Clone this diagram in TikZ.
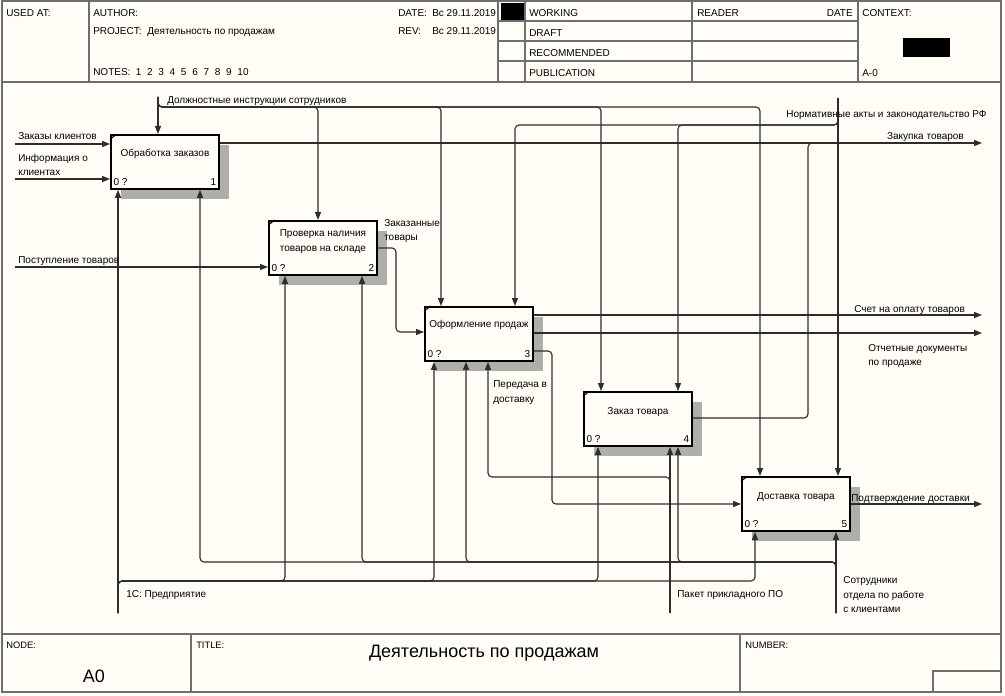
\documentclass[tikz,border=0pt]{standalone}
\usepackage{fontspec}
\setmainfont{Liberation Sans}
\usetikzlibrary{arrows.meta,shadows}
\definecolor{bg}{RGB}{255,253,245}
\definecolor{lnc}{RGB}{45,45,45}
\definecolor{frc}{RGB}{110,110,110}
\definecolor{shc}{RGB}{175,175,170}
\begin{document}
\begin{tikzpicture}[x=0.75pt,y=-0.75pt,
  arr/.style={draw=lnc,line width=0.85pt,-{Triangle[length=6pt,width=4.5pt]}},
  plain/.style={draw=lnc,line width=0.85pt},
  rc/.style={rounded corners=3pt},
  fbox/.style={draw=black,line width=1.4pt,fill=bg,minimum width=81pt,minimum height=40.5pt,
    inner sep=0pt,anchor=north west,
    drop shadow={fill=shc,opacity=1,shadow xshift=7.5pt,shadow yshift=-7.5pt}},
  lbl/.style={font=\fontsize{7.5}{9}\selectfont,inner sep=0pt,anchor=base west,text=black},
  lble/.style={lbl,anchor=base east},
  btxt/.style={font=\fontsize{7.5}{11.25}\selectfont,inner sep=0pt,align=center,text=black},
  frame/.style={draw=frc,line width=1pt},
  small/.style={font=\fontsize{7}{8}\selectfont,inner sep=0pt,anchor=base west,text=black},
  big/.style={font=\fontsize{13.5}{16}\selectfont,inner sep=0pt,anchor=base,text=black}
]
\useasboundingbox (0,0) rectangle (1005,695);
\fill[bg] (0,0) rectangle (1005,695);

% ---------- header ----------
\draw[frame] (2,1) rectangle (1001,692);
\draw[frame] (2,82) -- (1001,82);
\draw[frame] (89,1) -- (89,82);
\draw[frame] (498,1) -- (498,82);
\draw[frame] (525,1) -- (525,82);
\draw[frame] (692,1) -- (692,82);
\draw[frame] (858,1) -- (858,82);
\draw[frame] (498,21) -- (858,21);
\draw[frame] (498,41) -- (858,41);
\draw[frame] (498,61) -- (858,61);
\fill[black] (501,3) rectangle (524,20);
\fill[black] (903,38) rectangle (950,57);

\node[lbl] (hused) at (6,17) {USED AT:};
\node[lbl] (hauth) at (93,17) {AUTHOR:};
\node[lbl] (hproj) at (93,35) {PROJECT:};
\node[lbl] (hprojv) at (147,35) {Деятельность по продажам};
\node[lbl] (hnotes) at (93,76) {NOTES:\hspace{4pt}1\hspace{4.3pt}2\hspace{4.3pt}3\hspace{4.3pt}4\hspace{4.3pt}5\hspace{4.3pt}6\hspace{4.3pt}7\hspace{4.3pt}8\hspace{4.3pt}9\hspace{4.3pt}10};
\node[lbl] (hdate) at (398,17) {DATE:};
\node[lbl] (hdatev) at (432,17) {Вс 29.11.2019};
\node[lbl] (hrev) at (398,35) {REV:};
\node[lbl] (hrevv) at (432,35) {Вс 29.11.2019};
\node[lbl] (hwork) at (529,17) {WORKING};
\node[lbl] (hdraft) at (529,37) {DRAFT};
\node[lbl] (hrec) at (529,57) {RECOMMENDED};
\node[lbl] (hpub) at (529,77) {PUBLICATION};
\node[lbl] (hread) at (697,17) {READER};
\node[lble] (hrdate) at (853,17) {DATE};
\node[lbl] (hctx) at (862,17) {CONTEXT:};
\node[lbl] (hctxv) at (862,77) {A-0};

% ---------- footer ----------
\draw[draw=frc,line width=1.5pt] (2,634) -- (1001,634);
\draw[frame] (191,634) -- (191,692);
\draw[frame] (740,634) -- (740,692);
\draw[frame] (933,671) rectangle (1001,692);
\node[small] (fnode) at (6,648) {NODE:};
\node[small] (ftitle) at (196,648) {TITLE:};
\node[small] (fnum) at (745,648) {NUMBER:};
\node[big] (fnodev) at (94,682) {A0};
\node[big] (ftitlev) at (484,657) {Деятельность по продажам};

% ---------- boxes ----------
\node[fbox] (b1) at (110,134) {};
\node[fbox] (b2) at (268,220) {};
\node[fbox] (b3) at (424,306) {};
\node[fbox] (b4) at (583,391) {};
\node[fbox] (b5) at (741,476) {};

\foreach \b/\n in {b1/1,b2/2,b3/3,b4/4,b5/5}{
  \draw[line width=0.8pt] ([yshift=-4pt]\b.north west) -- ([xshift=5pt]\b.north west);
  \node[lbl] (\b z) at ([xshift=2.5pt,yshift=3pt]\b.south west) {0 ?};
  \node[lble] (\b n) at ([xshift=-2.5pt,yshift=3pt]\b.south east) {\n};
}
\node[btxt] (b1t) at ([yshift=6pt]b1.center) {Обработка заказов};
\node[btxt] (b2t) at ([yshift=5pt]b2.center) {Проверка наличия\\товаров на складе};
\node[btxt] (b3t) at ([yshift=6.5pt]b3.center) {Оформление продаж};
\node[btxt] (b4t) at ([yshift=5.5pt]b4.center) {Заказ товара};
\node[btxt] (b5t) at ([yshift=5pt]b5.center) {Доставка товара};

% ---------- free ends ----------
\coordinate (zkS) at (15,144);
\coordinate (ikS) at (15,179);
\coordinate (ptS) at (15,267);
\coordinate (diS) at (158,97);
\coordinate (naS) at (838,98);
\coordinate (ztE) at (982,143);
\coordinate (soE) at (982,315);
\coordinate (odE) at (982,333);
\coordinate (pdE) at (982,504);
\coordinate (m1S) at (118,613);
\coordinate (m2S) at (670,613);
\coordinate (m3S) at (836,613);

% ---------- inputs ----------
\draw[arr] (zkS) -- (zkS -| b1.west);
\draw[arr] (ikS) -- (ikS -| b1.west);
\draw[arr] (ptS) -- (ptS -| b2.west);

% ---------- controls ----------
\draw[arr] (diS) -- (diS |- b1.north);
\draw[arr,rc] (diS) -- (158,107) -- (318,107) -- (318,0 |- b2.north);
\draw[arr,rc] (diS) -- (158,107) -- (441,107) -- (441,0 |- b3.north);
\draw[arr,rc] (diS) -- (158,107) -- (601,107) -- (601,0 |- b4.north);
\draw[arr,rc] (diS) -- (158,107) -- (760,107) -- (760,0 |- b5.north);

\draw[arr] (naS) -- (naS |- b5.north);
\draw[arr,rc] (naS) -- (838,125) -- (678,125) -- (678,0 |- b4.north);
\draw[arr,rc] (naS) -- (838,125) -- (515,125) -- (515,0 |- b3.north);

% ---------- outputs ----------
\draw[arr] (ztE -| b1.east) -- (ztE);
\draw[plain,rc] (b4.east |- 0,418) -- (808,418) -- (808,143) -- (822,143);
\draw[arr,rc] (b2.east |- 0,248) -- (396,248) -- (396,332) -- (b3.west |- 0,332);
\draw[arr] (soE -| b3.east) -- (soE);
\draw[arr] (odE -| b3.east) -- (odE);
\draw[arr,rc] (b3.east |- 0,351) -- (552,351) -- (552,504) -- (b5.west |- 0,504);
\draw[arr] (pdE -| b5.east) -- (pdE);

% ---------- mechanisms ----------
\draw[arr] (m1S) -- (m1S |- b1.south);
\draw[arr,rc] (m1S) -- (118,581) -- (285,581) -- (285,0 |- b2.south);
\draw[arr,rc] (m1S) -- (118,581) -- (434,581) -- (434,0 |- b3.south);
\draw[arr,rc] (m1S) -- (118,581) -- (598,581) -- (598,0 |- b4.south);
\draw[arr,rc] (m1S) -- (118,581) -- (755,581) -- (755,0 |- b5.south);

\draw[arr] (m3S) -- (m3S |- b5.south);
\draw[arr,rc] (m3S) -- (836,562) -- (678,562) -- (678,0 |- b4.south);
\draw[arr,rc] (m3S) -- (836,562) -- (466,562) -- (466,0 |- b3.south);
\draw[arr,rc] (m3S) -- (836,562) -- (362,562) -- (362,0 |- b2.south);
\draw[arr,rc] (m3S) -- (836,562) -- (200,562) -- (200,0 |- b1.south);

\draw[arr] (m2S) -- (m2S |- b4.south);
\draw[arr,rc] (m2S) -- (670,477) -- (488,477) -- (488,0 |- b3.south);

% ---------- labels ----------
\node[lbl] (lzk) at (18,140) {Заказы клиентов};
\node[lbl] (lik1) at (18,162) {Информация о};
\node[lbl] (lik2) at (18,176) {клиентах};
\node[lbl] (lpt) at (18,263) {Поступление товаров};
\node[lbl] (ldi) at (167,104) {Должностные инструкции сотрудников};
\node[lbl] (lna) at (786,118) {Нормативные акты и законодательство РФ};
\node[lble] (lzt) at (964,140) {Закупка товаров};
\node[lbl] (lzz1) at (384,226) {Заказанные};
\node[lbl] (lzz2) at (384,240) {товары};
\node[lbl] (lso) at (854,312) {Счет на оплату товаров};
\node[lbl] (lod1) at (868,351) {Отчетные документы};
\node[lbl] (lod2) at (868,365) {по продаже};
\node[lbl] (lpd1) at (493,387) {Передача в};
\node[lbl] (lpd2) at (493,402) {доставку};
\node[lbl] (lpod) at (851,501) {Подтверждение доставки};
\node[lbl] (l1c) at (126,597) {1С: Предприятие};
\node[lbl] (lpk) at (677,597) {Пакет прикладного ПО};
\node[lbl] (ls1) at (843,583) {Сотрудники};
\node[lbl] (ls2) at (843,598) {отдела по работе};
\node[lbl] (ls3) at (843,612) {с клиентами};
\end{tikzpicture}
\end{document}
